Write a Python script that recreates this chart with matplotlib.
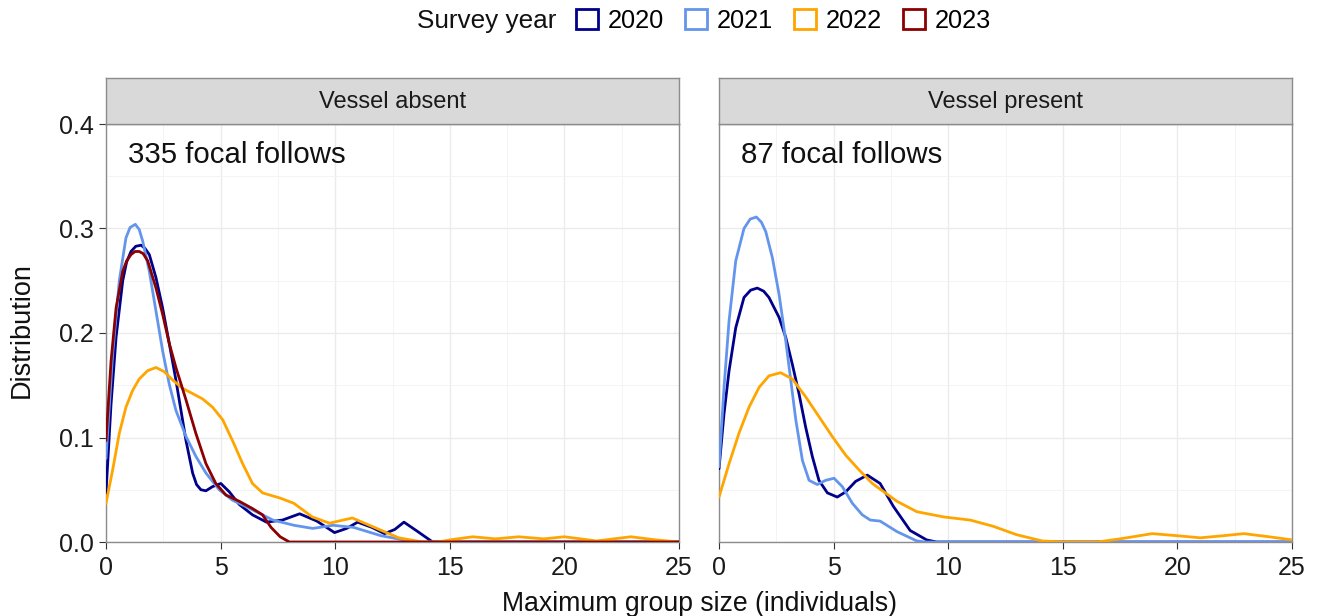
import matplotlib
matplotlib.use("Agg")
import matplotlib.pyplot as plt
from matplotlib.patches import Patch
from matplotlib.ticker import MultipleLocator, FuncFormatter

plt.rcParams['font.family'] = ['Liberation Sans', 'DejaVu Sans']

# densities (x = max group size, y = density)
years = ["2020", "2021", "2022", "2023"]
colors = {"2020": "#00008B", "2021": "#6495ED", "2022": "#FFA500", "2023": "#8B0000"}

absent_2020_x = [0, 0.22, 0.44, 0.73, 0.9, 1.09, 1.3, 1.53, 1.7, 1.89, 2.18, 2.47, 2.76, 3.05, 3.27,
                 3.49, 3.78, 3.95, 4.14, 4.36, 4.65, 5.01, 5.38, 5.81, 6.39, 7.0, 7.7, 8.45, 9.2,
                 9.97, 10.5, 10.98, 11.6, 12.15, 12.6, 13.0, 13.6, 14.25, 25]
absent_2020_y = [0.047, 0.132, 0.196, 0.25, 0.268, 0.278, 0.283, 0.284, 0.281, 0.275, 0.253, 0.224,
                 0.19, 0.155, 0.126, 0.097, 0.066, 0.055, 0.05, 0.049, 0.053, 0.056, 0.048, 0.036,
                 0.026, 0.019, 0.021, 0.027, 0.02, 0.009, 0.013, 0.019, 0.014, 0.008, 0.012, 0.019,
                 0.01, 0.0, 0.0]

absent_2021_x = [0, 0.29, 0.58, 0.87, 1.05, 1.28, 1.45, 1.6, 1.89, 2.18, 2.47, 2.76, 3.05, 3.49,
                 3.92, 4.36, 4.94, 5.52, 6.1, 6.83, 7.28, 8.2, 9.02, 9.9, 10.8, 12.0, 13.5, 25]
absent_2021_y = [0.08, 0.18, 0.25, 0.291, 0.301, 0.304, 0.299, 0.288, 0.259, 0.221, 0.183, 0.151,
                 0.126, 0.101, 0.082, 0.066, 0.05, 0.04, 0.034, 0.026, 0.021, 0.016, 0.013, 0.016,
                 0.014, 0.006, 0.0, 0.0]

absent_2022_x = [0, 0.29, 0.58, 0.87, 1.16, 1.45, 1.82, 2.18, 2.54, 2.91, 3.34, 3.78, 4.21, 4.65,
                 5.09, 5.52, 5.96, 6.39, 6.83, 7.6, 8.2, 9.0, 9.75, 10.75, 11.6, 12.77, 13.8, 14.5,
                 15.0, 16.0, 17.0, 18.0, 19.1, 20.0, 21.4, 22.9, 24.0, 25]
absent_2022_y = [0.037, 0.069, 0.104, 0.129, 0.145, 0.156, 0.164, 0.167, 0.163, 0.155, 0.147,
                 0.142, 0.137, 0.129, 0.117, 0.097, 0.075, 0.056, 0.047, 0.042, 0.037, 0.024,
                 0.018, 0.023, 0.015, 0.004, 0.0, 0.0, 0.002, 0.005, 0.003, 0.005, 0.003, 0.005,
                 0.001, 0.005, 0.002, 0.0]

absent_2023_x = [0, 0.22, 0.44, 0.73, 0.9, 1.09, 1.27, 1.45, 1.62, 1.82, 2.18, 2.47, 2.76, 3.05,
                 3.49, 3.92, 4.36, 4.79, 5.23, 5.81, 6.39, 6.83, 7.2, 7.6, 8.0, 25]
absent_2023_y = [0.097, 0.173, 0.224, 0.259, 0.269, 0.275, 0.278, 0.278, 0.276, 0.269, 0.243,
                 0.218, 0.19, 0.167, 0.136, 0.104, 0.075, 0.056, 0.045, 0.039, 0.032, 0.026, 0.014,
                 0.005, 0.0, 0.0]

present_2020_x = [0, 0.22, 0.44, 0.73, 1.09, 1.38, 1.67, 1.95, 2.18, 2.62, 2.91, 3.2, 3.49, 3.78,
                  4.07, 4.36, 4.73, 5.16, 5.53, 5.96, 6.47, 7.03, 7.61, 8.34, 9.06, 9.5, 25]
present_2020_y = [0.07, 0.123, 0.164, 0.205, 0.234, 0.241, 0.243, 0.24, 0.234, 0.215, 0.196, 0.17,
                  0.142, 0.11, 0.082, 0.059, 0.047, 0.043, 0.048, 0.058, 0.064, 0.056, 0.034,
                  0.011, 0.002, 0.0, 0.0]

present_2021_x = [0, 0.22, 0.44, 0.73, 1.09, 1.36, 1.63, 1.85, 2.04, 2.33, 2.62, 2.91, 3.13, 3.35,
                  3.64, 3.93, 4.29, 4.65, 5.02, 5.38, 5.82, 6.25, 6.6, 7.03, 7.76, 8.63, 9.0, 25]
present_2021_y = [0.072, 0.148, 0.212, 0.269, 0.3, 0.309, 0.311, 0.306, 0.297, 0.272, 0.237,
                  0.193, 0.155, 0.117, 0.078, 0.059, 0.055, 0.059, 0.061, 0.053, 0.037, 0.026,
                  0.021, 0.02, 0.01, 0.001, 0.0, 0.0]

present_2022_x = [0, 0.44, 0.87, 1.31, 1.75, 2.18, 2.69, 3.2, 3.78, 4.36, 4.94, 5.53, 6.11, 6.69,
                  7.76, 8.63, 9.8, 10.96, 11.97, 12.98, 14.1, 15.0, 16.5, 17.5, 18.9, 20.0, 21.0,
                  22.0, 22.9, 24.0, 25]
present_2022_y = [0.043, 0.075, 0.104, 0.129, 0.148, 0.159, 0.162, 0.156, 0.139, 0.12, 0.101, 0.083,
                  0.069, 0.056, 0.039, 0.029, 0.024, 0.021, 0.015, 0.007, 0.001, 0.0, 0.0, 0.003,
                  0.008, 0.006, 0.004, 0.006, 0.008, 0.005, 0.002]

panels = [
    ("Vessel absent", "335 focal follows", {
        "2020": (absent_2020_x, absent_2020_y),
        "2021": (absent_2021_x, absent_2021_y),
        "2022": (absent_2022_x, absent_2022_y),
        "2023": (absent_2023_x, absent_2023_y)}),
    ("Vessel present", "87 focal follows", {
        "2020": (present_2020_x, present_2020_y),
        "2021": (present_2021_x, present_2021_y),
        "2022": (present_2022_x, present_2022_y)}),
]

W, H = 1317, 616
fig = plt.figure(figsize=(W / 100, H / 100), dpi=100)

border = "#8c8c8c"
lefts = [106, 719]
panel_w = 573
bottom, top, strip_h = 542, 124, 46

for i, (strip, note, series) in enumerate(panels):
    ax = fig.add_axes([lefts[i] / W, (H - bottom) / H, panel_w / W, (bottom - top) / H])
    for yr in years:
        if yr in series:
            xs, ys = series[yr]
            ax.plot(xs, ys, color=colors[yr], lw=2.0, solid_joinstyle='round',
                    solid_capstyle='round', zorder=3)
    ax.set_xlim(0, 25)
    ax.set_ylim(0, 0.4)
    ax.xaxis.set_major_locator(MultipleLocator(5))
    ax.xaxis.set_minor_locator(MultipleLocator(2.5))
    ax.yaxis.set_major_locator(MultipleLocator(0.1))
    ax.yaxis.set_minor_locator(MultipleLocator(0.05))
    ax.grid(which='major', color='#ebebeb', lw=1.0)
    ax.grid(which='minor', color='#f3f3f3', lw=0.6)
    ax.set_axisbelow(True)
    for sp in ax.spines.values():
        sp.set_color(border)
        sp.set_linewidth(1.0)
    ax.tick_params(which='minor', length=0)
    ax.tick_params(which='major', length=5, color='#333333', labelsize=18,
                   labelcolor='#1a1a1a', pad=3.5)
    ax.tick_params(axis='x', pad=5)
    ax.xaxis.set_major_formatter(FuncFormatter(lambda v, p: f"{v:g}"))
    ax.yaxis.set_major_formatter(FuncFormatter(lambda v, p: f"{v:.1f}"))
    if i == 1:
        ax.tick_params(axis='y', length=0, labelleft=False)
    ax.text(0.96, 0.37, note, fontsize=21.2, color='#111111', va='center', ha='left')

    sax = fig.add_axes([lefts[i] / W, (H - top) / H, panel_w / W, strip_h / H])
    sax.set_facecolor('#d9d9d9')
    sax.set_xticks([])
    sax.set_yticks([])
    for sp in sax.spines.values():
        sp.set_color(border)
        sp.set_linewidth(1.0)
    sax.text(0.5, 0.47, strip, transform=sax.transAxes, ha='center', va='center',
             fontsize=17, color='#1a1a1a')

fig.text(22 / W, 1 - 330 / H, "Distribution", rotation=90, ha='center', va='center',
         fontsize=19.5, color='#111111')
fig.text(699 / W, 1 - 604 / H, "Maximum group size (individuals)", ha='center', va='center',
         fontsize=19.2, color='#111111')

handles = [Patch(facecolor='white', edgecolor=colors[yr], lw=2.0, label=yr) for yr in years]
leg = fig.legend(handles=handles, loc='center left', bbox_to_anchor=(576 / W, 1 - 21 / H),
                 ncol=4, frameon=False, fontsize=18.3, handlelength=0.86, handleheight=0.86,
                 handletextpad=0.39, columnspacing=0.83, borderpad=0, borderaxespad=0)
fig.text(556 / W, 1 - 21 / H, "Survey year", ha='right', va='center', fontsize=18.8,
         color='#111111')

fig.savefig("out.png", dpi=100)
